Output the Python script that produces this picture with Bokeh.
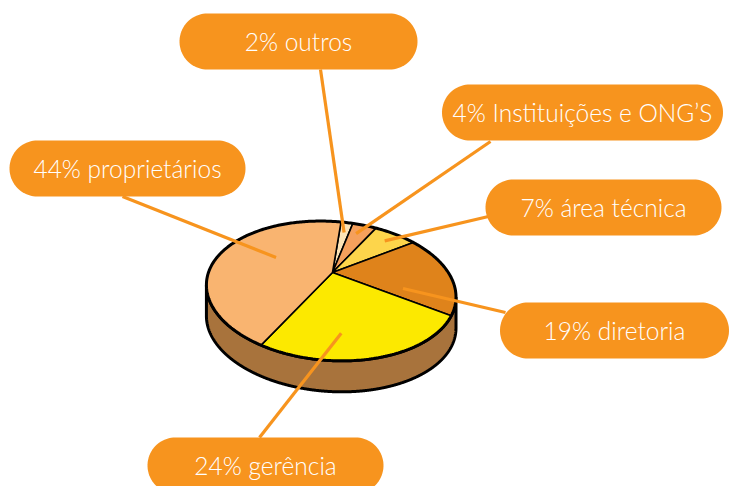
import numpy as np
from bokeh.plotting import figure
from bokeh.models import Range1d
from bokeh.core.properties import value
from bokeh.embed import file_html
from bokeh.resources import INLINE

# ---- data ----
categories = ["outros", "Instituições e ONG’S", "área técnica", "diretoria", "gerência", "proprietários"]
shares = [2, 4, 7, 19, 24, 44]

# ---- styles ----
slice_colors = ["#FCE3B6", "#F5A05C", "#FDD54B", "#DF831B", "#FCE900", "#F9B470"]
side_color = "#A8733C"
accent = "#F7941E"

# ---- layout (pixel space) ----
CX, CY = 332, 272              # apex of the pie on screen
A, B, K = 120.5, 64.6, 0.266   # perspective ellipse parameters
TILT = np.radians(4.0)         # slight clockwise tilt of the disc
DEPTH = 31
START_DEG = 87.0

# callout boxes: center x, center y, width
box_cx = [298, 582, 603, 614, 265, 127]
box_cy = [41, 112, 207, 330, 465, 168]
box_w = [238, 281, 236, 229, 236, 236]
BOX_H = 56
# leader line: outer end (on box edge), inner anchor shift / radius fraction
lead_out_x = [320, 490, 488, 505, 259, 122]
lead_out_y = [69, 141, 216, 312, 437, 196]
anchor_shift = [0, 2, 0, -22, -12, -6]
anchor_frac = [0.76, 0.78, 0.80, 0.59, 0.75, 0.53]


def proj(u, v):
    d = 1 + K * v
    x = A * u / d
    y = -B * v / d
    xr = x * np.cos(TILT) - y * np.sin(TILT)
    yr = x * np.sin(TILT) + y * np.cos(TILT)
    return CX + xr, CY + yr


p = figure(width=730, height=486, x_range=Range1d(0, 730), y_range=Range1d(486, 0),
           output_backend="svg", toolbar_location=None, min_border=0)
p.axis.visible = False
p.grid.visible = False
p.outline_line_color = None
p.background_fill_color = "white"

# side of the cylinder (front arc between the silhouette points, extruded down)
tf = np.linspace(-1.5 * np.pi, 0.5 * np.pi, 2400)
fx, fy = proj(np.cos(tf), np.sin(tf))
i0, i1 = int(np.argmin(fx)), int(np.argmax(fx))
sx, sy = fx[i0:i1 + 1], fy[i0:i1 + 1]
side_x = np.concatenate([sx, sx[::-1]])
side_y = np.concatenate([sy, (sy + DEPTH)[::-1]])
p.patch(side_x, side_y, fill_color=side_color, line_color="black", line_width=3)

# top slices
vals = np.array(shares, dtype=float)
cum = np.concatenate([[0], np.cumsum(vals)]) / vals.sum() * 360.0
bounds = START_DEG - cum
xs_list, ys_list = [], []
for i in range(len(vals)):
    t = np.radians(np.linspace(bounds[i], bounds[i + 1], 120))
    x, y = proj(np.cos(t), np.sin(t))
    xs_list.append(np.concatenate([[CX], x]).tolist())
    ys_list.append(np.concatenate([[CY], y]).tolist())
p.patches(xs_list, ys_list, fill_color=slice_colors, line_color="black", line_width=1.6)

# rim outline of the top
tt = np.linspace(0, 2 * np.pi, 400)
rx, ry = proj(np.cos(tt), np.sin(tt))
p.line(rx, ry, line_color="black", line_width=3)

# leader lines
mids = (bounds[:-1] + bounds[1:]) / 2
lx, ly = [], []
for i in range(len(vals)):
    th = np.radians(mids[i] + anchor_shift[i])
    f = anchor_frac[i]
    ax, ay = proj(f * np.cos(th), f * np.sin(th))
    lx.append([lead_out_x[i], float(ax)])
    ly.append([lead_out_y[i], float(ay)])
p.multi_line(lx, ly, line_color=accent, line_width=3.2)

# callout pills
bx, by = [], []
for i in range(len(vals)):
    r = BOX_H / 2
    cl = box_cx[i] - box_w[i] / 2 + r
    cr = box_cx[i] + box_w[i] / 2 - r
    tr = np.linspace(-np.pi / 2, np.pi / 2, 40)
    tl = np.linspace(np.pi / 2, 3 * np.pi / 2, 40)
    px = np.concatenate([cr + r * np.cos(tr), cl + r * np.cos(tl)])
    py = np.concatenate([box_cy[i] + r * np.sin(tr), box_cy[i] + r * np.sin(tl)])
    bx.append(px.tolist())
    by.append(py.tolist())
p.patches(bx, by, fill_color=accent, line_color=None)

labels = [f"{s}% {c}" for s, c in zip(shares, categories)]
p.text(x=box_cx, y=box_cy, text=labels, text_align="center", text_baseline="middle",
       text_color="white", text_font=value("Lato Light"), text_font_size="24.5px")

open("out.html", "w").write(file_html(p, INLINE))
